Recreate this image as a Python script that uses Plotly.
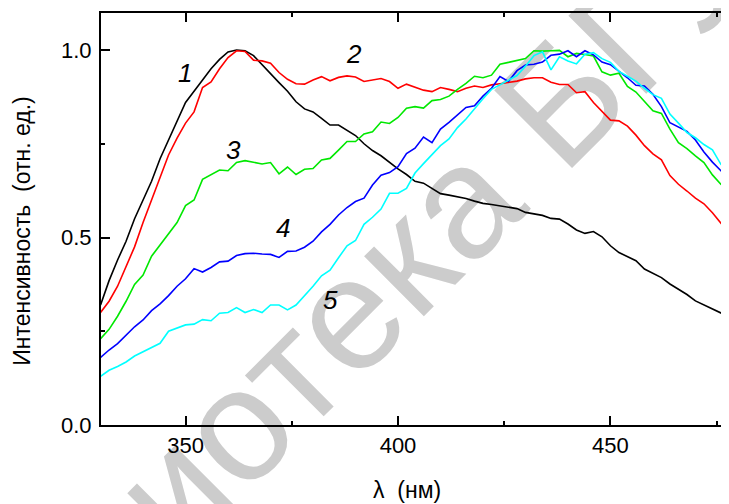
import plotly.graph_objects as go

wavelength = list(range(330, 480, 2))

curve1 = [0.32, 0.385, 0.44, 0.49, 0.55, 0.60, 0.65, 0.71, 0.76, 0.81,
          0.86, 0.89, 0.92, 0.95, 0.975, 0.995, 1.0, 0.998, 0.985, 0.96,
          0.937, 0.913, 0.89, 0.862, 0.843, 0.835, 0.818, 0.80, 0.80, 0.785,
          0.772, 0.75, 0.732, 0.718, 0.70, 0.683, 0.668, 0.65, 0.645, 0.631,
          0.617, 0.613, 0.609, 0.604, 0.597, 0.591, 0.588, 0.584, 0.58, 0.577,
          0.567, 0.562, 0.559, 0.551, 0.549, 0.536, 0.52, 0.511, 0.516, 0.502,
          0.478, 0.46, 0.448, 0.438, 0.416, 0.404, 0.393, 0.376, 0.362, 0.348,
          0.331, 0.32, 0.31, 0.298, 0.288]

curve2 = [0.30, 0.33, 0.37, 0.425, 0.475, 0.54, 0.60, 0.66, 0.72, 0.765,
          0.805, 0.835, 0.90, 0.915, 0.95, 0.98, 0.998, 0.996, 0.973, 0.971,
          0.965, 0.94, 0.922, 0.91, 0.909, 0.92, 0.929, 0.918, 0.927, 0.931,
          0.928, 0.916, 0.921, 0.924, 0.916, 0.898, 0.909, 0.90, 0.893, 0.889,
          0.90, 0.895, 0.889, 0.898, 0.904, 0.90, 0.907, 0.91, 0.913, 0.917,
          0.923, 0.926, 0.926, 0.914, 0.908, 0.908, 0.886, 0.889, 0.86, 0.837,
          0.813, 0.811, 0.797, 0.773, 0.745, 0.723, 0.707, 0.665, 0.642, 0.624,
          0.605, 0.59, 0.566, 0.538, 0.515]

curve3 = [0.23, 0.255, 0.29, 0.33, 0.375, 0.40, 0.45, 0.48, 0.51, 0.54,
          0.585, 0.60, 0.655, 0.668, 0.68, 0.678, 0.70, 0.705, 0.70, 0.696,
          0.70, 0.67, 0.688, 0.668, 0.682, 0.684, 0.707, 0.711, 0.733, 0.756,
          0.756, 0.776, 0.782, 0.808, 0.804, 0.82, 0.845, 0.849, 0.845, 0.865,
          0.868, 0.877, 0.895, 0.911, 0.93, 0.926, 0.933, 0.962, 0.967, 0.971,
          0.977, 0.998, 0.997, 0.998, 0.999, 0.982, 0.991, 0.988, 0.984, 0.942,
          0.933, 0.938, 0.903, 0.888, 0.862, 0.838, 0.831, 0.789, 0.753, 0.737,
          0.718, 0.70, 0.667, 0.642, 0.634]

curve4 = [0.18, 0.20, 0.217, 0.24, 0.262, 0.28, 0.305, 0.323, 0.345, 0.37,
          0.39, 0.417, 0.408, 0.42, 0.435, 0.437, 0.452, 0.457, 0.458, 0.456,
          0.455, 0.447, 0.463, 0.464, 0.474, 0.49, 0.515, 0.535, 0.56, 0.58,
          0.596, 0.605, 0.64, 0.666, 0.673, 0.689, 0.724, 0.738, 0.768, 0.753,
          0.789, 0.807, 0.826, 0.847, 0.851, 0.877, 0.898, 0.929, 0.916, 0.945,
          0.96, 0.962, 0.968, 0.986, 0.989, 0.998, 0.982, 0.998, 0.987, 0.968,
          0.961, 0.944, 0.926, 0.906, 0.904, 0.882, 0.849, 0.806, 0.795, 0.783,
          0.76, 0.728, 0.701, 0.678, 0.658]

curve5 = [0.13, 0.146, 0.156, 0.168, 0.184, 0.195, 0.207, 0.218, 0.25, 0.259,
          0.267, 0.269, 0.281, 0.278, 0.298, 0.30, 0.313, 0.30, 0.308, 0.30,
          0.32, 0.32, 0.307, 0.32, 0.345, 0.37, 0.398, 0.413, 0.446, 0.478,
          0.492, 0.535, 0.554, 0.576, 0.618, 0.618, 0.631, 0.672, 0.697, 0.72,
          0.745, 0.763, 0.793, 0.816, 0.844, 0.87, 0.895, 0.907, 0.92, 0.932,
          0.957, 0.985, 0.995, 0.947, 0.982, 0.971, 0.963, 0.989, 0.993, 0.977,
          0.967, 0.943, 0.93, 0.917, 0.898, 0.881, 0.871, 0.829, 0.805, 0.78,
          0.766, 0.748, 0.734, 0.695, 0.671]

curve_labels = ["1", "2", "3", "4", "5"]
label_x = [349.9, 389.6, 361.2, 372.9, 384.0]
label_y = [0.939, 0.989, 0.733, 0.525, 0.333]
colors = ["#000000", "#ff0000", "#00e800", "#0000ff", "#00ffff"]

x_title = "λ\u00a0 (нм)"
y_title = "Интенсивность\u00a0 (отн. ед.)"
watermark = "Библиотека БГУ"

FONT = "Arial, Liberation Sans, Helvetica, sans-serif"

fig = go.Figure()
for ys, c in zip([curve1, curve2, curve3, curve4, curve5], colors):
    fig.add_trace(go.Scatter(x=wavelength, y=ys, mode="lines",
                             line=dict(color=c, width=1.6), showlegend=False))

for t, lx, ly in zip(curve_labels, label_x, label_y):
    fig.add_annotation(x=lx, y=ly, xref="x", yref="y", text="<i>%s</i>" % t,
                       showarrow=False, font=dict(size=26, color="black", family=FONT))

# watermark (behind the data)
wx, wy, dx, dy = 0.306, 0.189, 0.30, 0.38
fig.add_shape(type="line", xref="paper", yref="paper",
              x0=wx - dx, y0=wy - dy, x1=wx + dx, y1=wy + dy,
              line=dict(width=0, color="rgba(0,0,0,0)"), layer="below",
              label=dict(text=watermark, textposition="middle",
                         textangle=-45, yanchor="middle", xanchor="center",
                         font=dict(size=160, color="#cccccc", family=FONT)))

fig.add_annotation(x=-0.126, y=0.471, xref="paper", yref="paper", text=y_title,
                   textangle=-90, showarrow=False, xanchor="center", yanchor="middle",
                   font=dict(size=23, color="black", family=FONT))
fig.add_annotation(x=0.487, y=-0.158, xref="paper", yref="paper", text=x_title,
                   showarrow=False, xanchor="center", yanchor="middle",
                   font=dict(size=23, color="black", family=FONT))

axis_font = dict(size=22, color="black", family=FONT)
fig.update_xaxes(range=[330.1, 477.9], tickvals=[350, 400, 450],
                 ticks="inside", ticklen=9, tickwidth=2, tickcolor="black",
                 showline=True, linewidth=2, linecolor="black", mirror="ticks",
                 showgrid=False, zeroline=False, tickfont=axis_font,
                 ticklabelstandoff=0,
                 minor=dict(dtick=25, tick0=325, ticks="inside", ticklen=4,
                            tickwidth=2, tickcolor="black", showgrid=False))
fig.update_yaxes(range=[0, 1.0987], tickvals=[0, 0.5, 1.0], tickformat=".1f",
                 ticks="inside", ticklen=9, tickwidth=2, tickcolor="black",
                 showline=True, linewidth=2, linecolor="black", mirror=False,
                 showgrid=False, zeroline=False, tickfont=axis_font,
                 ticklabelstandoff=3,
                 minor=dict(dtick=0.25, tick0=0, ticks="inside", ticklen=4,
                            tickwidth=2, tickcolor="black", showgrid=False))

# page body has an 8px margin: shrink the figure so the plot lands where it should
fig.update_layout(width=721, height=496,
                  margin=dict(l=93, r=0, t=5, b=79, autoexpand=False),
                  paper_bgcolor="white", plot_bgcolor="rgba(0,0,0,0)")

fig.write_html("out.html")
